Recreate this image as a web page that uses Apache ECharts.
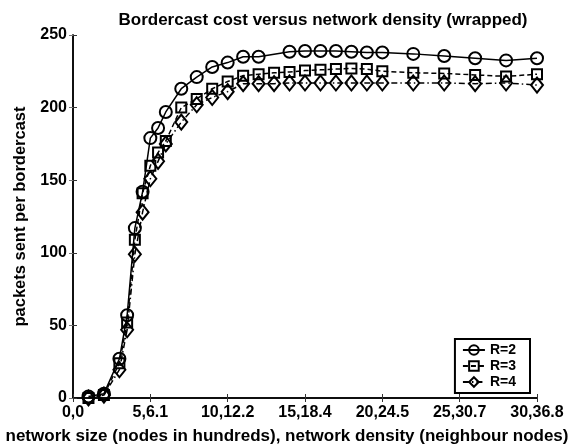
<!DOCTYPE html>
<html>
<head>
<meta charset="utf-8">
<script src="https://cdn.jsdelivr.net/npm/echarts@6/dist/echarts.min.js"></script>
<style>
html,body{margin:0;padding:0;background:#fff;}
#chart{width:571px;height:446px;}
</style>
</head>
<body>
<div id="chart"></div>
<script>
// tick labels: network size, network density
var xTickLabels = ["0,0", "5,6.1", "10,12.2", "15,18.4", "20,24.5", "25,30.7", "30,36.8"];

// R=2 (no point at 13)
var xR2 = [1, 2, 3, 3.5, 4, 4.5, 5, 5.5, 6, 7, 8, 9, 10, 11, 12, 14, 15, 16, 17, 18, 19, 20, 22, 24, 26, 28, 30];
var yR2 = [1, 3, 27, 57, 117, 142, 179, 186, 197, 213, 221, 228, 231, 235, 235, 238.5, 239, 239, 239, 238.5, 238, 238, 237, 235.5, 234, 232.5, 234];

// R=3 and R=4
var xR = [1, 2, 3, 3.5, 4, 4.5, 5, 5.5, 6, 7, 8, 9, 10, 11, 12, 13, 14, 15, 16, 17, 18, 19, 20, 22, 24, 26, 28, 30];
var yR3 = [0, 2, 24, 52, 109, 141, 160, 169, 177, 200, 206, 213, 218, 222, 223, 224, 224.5, 225.5, 226, 226.5, 227, 226.5, 225, 224, 223.5, 222.5, 221.5, 223];
var yR4 = [0, 2, 19.5, 47, 99, 128, 151, 163, 175, 190, 202, 207, 211, 216.5, 216.5, 216.5, 217, 217, 217, 217, 217, 217, 217, 217, 217, 216.5, 217, 215.5];

function pairs(xs, ys) {
	var out = [];
	for (var i = 0; i < xs.length; i++) {
		out.push([xs[i], ys[i]]);
	}
	return out;
}

var font = "Liberation Sans, Arial, Helvetica, sans-serif";

function makeSeries(name, data, symbol, size, dash) {
	return {
		name: name,
		type: 'line',
		data: data,
		symbol: symbol,
		symbolSize: size,
		showAllSymbol: true,
		lineStyle: { color: '#000', width: 1.5, type: dash },
		itemStyle: { color: 'rgba(255,255,255,0)', borderColor: '#000', borderWidth: 2 },
		emphasis: { disabled: true },
		animation: false
	};
}

var chart = echarts.init(document.getElementById('chart'));
var option = {
	backgroundColor: '#fff',
	title: {
		text: 'Bordercast cost versus network density (wrapped)',
		left: 318,
		textAlign: 'center',
		top: 7,
		textStyle: { fontFamily: font, fontSize: 17, fontWeight: 'bold', color: '#000' }
	},
	grid: { left: 73, right: 34, top: 35, bottom: 48, containLabel: false, outerBoundsMode: 'none' },
	legend: {
		orient: 'vertical',
		right: 41,
		top: 339,
		itemWidth: 22,
		itemHeight: 12,
		itemGap: 2,
		padding: [4, 14, 4, 7],
		borderColor: '#000',
		borderWidth: 2,
		backgroundColor: '#fff',
		textStyle: { fontFamily: font, fontSize: 14, fontWeight: 'bold', color: '#000' },
		data: ['R=2', 'R=3', 'R=4']
	},
	xAxis: [{
		type: 'value',
		min: 0,
		max: 30,
		interval: 5,
		name: 'network size (nodes in hundreds), network density (neighbour nodes)',
		nameLocation: 'middle',
		nameGap: 30,
		nameTextStyle: { fontFamily: font, fontSize: 17, fontWeight: 'bold', color: '#000', padding: [0, 36, 0, 0] },
		axisLine: { lineStyle: { color: '#000', width: 1.5 } },
		axisTick: { inside: true, length: 4, lineStyle: { color: '#333' } },
		axisLabel: {
			fontFamily: font, fontSize: 16, fontWeight: 'bold', color: '#000', margin: 7,
			formatter: function (v) { return xTickLabels[Math.round(v / 5)]; }
		},
		splitLine: { show: false }
	}, {
		type: 'value',
		position: 'top',
		min: 0,
		max: 30,
		interval: 5,
		axisLine: { lineStyle: { color: '#000', width: 1.5 } },
		axisTick: { inside: true, length: 4, lineStyle: { color: '#333' } },
		axisLabel: { show: false },
		splitLine: { show: false }
	}],
	yAxis: [{
		type: 'value',
		min: 0,
		max: 250,
		interval: 50,
		name: 'packets sent per bordercast',
		nameLocation: 'middle',
		nameGap: 41,
		nameTextStyle: { fontFamily: font, fontSize: 16.5, fontWeight: 'bold', color: '#000' },
		axisLine: { show: true, lineStyle: { color: '#000', width: 1.5 } },
		axisTick: { show: true, inside: true, length: 4, lineStyle: { color: '#333' } },
		axisLabel: { fontFamily: font, fontSize: 16, fontWeight: 'bold', color: '#000', margin: 6 },
		splitLine: { show: false }
	}, {
		type: 'value',
		position: 'right',
		min: 0,
		max: 250,
		interval: 50,
		axisLine: { show: true, lineStyle: { color: '#000', width: 1.5 } },
		axisTick: { show: true, inside: true, length: 4, lineStyle: { color: '#777' } },
		axisLabel: { show: false },
		splitLine: { show: false }
	}],
	series: [
		makeSeries('R=2', pairs(xR2, yR2), 'circle', 12, 'solid'),
		makeSeries('R=3', pairs(xR, yR3), 'rect', 10, [5, 3]),
		makeSeries('R=4', pairs(xR, yR4), 'diamond', [12, 15], [6, 3, 1.5, 3])
	]
};
chart.setOption(option);
</script>
</body>
</html>
